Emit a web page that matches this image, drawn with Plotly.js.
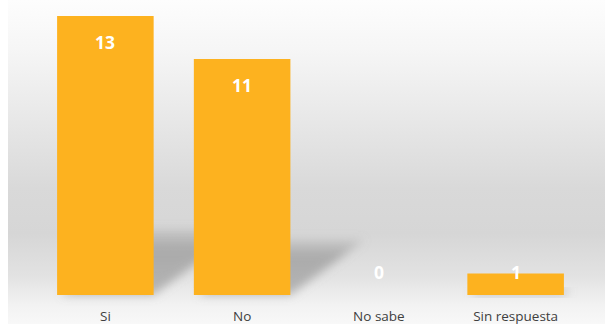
<!DOCTYPE html>
<html>
<head>
<meta charset="utf-8">
<script src="https://cdn.plot.ly/plotly-3.0.1.min.js"></script>
<style>
  html, body { margin: 0; padding: 0; background: #ffffff; }
  #wrap { position: relative; width: 605px; height: 324px; overflow: hidden; background: #ffffff; }
  #bg { position: absolute; left: 8px; top: 0; width: 597px; height: 324px;
        background: linear-gradient(to bottom, #fdfdfd 0%, #f6f6f6 15%, #e9e9e9 35%, #d9d9d9 58%, #d6d6d6 72%, #e2e2e2 85%, #f2f2f2 94%, #f8f8f8 100%); }
  #shadow { position: absolute; left: 0; top: 0; width: 605px; height: 324px; }
  #chart { position: absolute; left: 0; top: 0; width: 605px; height: 324px; }
</style>
</head>
<body>
<div id="wrap">
  <div id="bg"></div>
  <svg id="shadow" width="605" height="324" xmlns="http://www.w3.org/2000/svg">
    <defs>
      <filter id="blur" x="-50%" y="-50%" width="200%" height="200%">
        <feGaussianBlur stdDeviation="5"/>
      </filter>
      <linearGradient id="sg" x1="0" y1="1" x2="0" y2="0">
        <stop offset="0" stop-color="#8a8a8a" stop-opacity="0.55"/>
        <stop offset="0.7" stop-color="#8a8a8a" stop-opacity="0.6"/>
        <stop offset="1" stop-color="#8a8a8a" stop-opacity="0.2"/>
      </linearGradient>
    </defs>
    <g id="shadowg"></g>
  </svg>
  <div id="chart"></div>
</div>
<script>
const categories = ["Si", "No", "No sabe", "Sin respuesta"];
const values = [13, 11, 0, 1];

const annotations = categories.map((c, i) => ({
  x: c,
  y: Math.max(values[i] - 1.2, 1.07),
  xref: "x", yref: "y",
  text: String(values[i]),
  showarrow: false,
  font: { family: "'Open Sans', sans-serif", size: 17.5, color: "#ffffff", weight: "bold" },
  yanchor: "middle"
}));

const trace = {
  type: "bar",
  x: categories,
  y: values,
  marker: { color: "#FDB21F", line: { width: 0 } },
  hoverinfo: "none"
};

const bargap = 0.294;
const layout = {
  width: 605, height: 324,
  margin: { l: 37, r: 21, t: 16, b: 29 },
  paper_bgcolor: "rgba(0,0,0,0)",
  plot_bgcolor: "rgba(0,0,0,0)",
  bargap: bargap,
  showlegend: false,
  font: { family: "'Open Sans', sans-serif", color: "#404040" },
  xaxis: {
    type: "category",
    showgrid: false, zeroline: false, showline: false,
    ticks: "", tickfont: { size: 13.5, color: "#404040" },
    ticklabelstandoff: 11
  },
  yaxis: {
    range: [0, 13], visible: false, showgrid: false, zeroline: false, fixedrange: true
  },
  annotations: annotations
};

Plotly.newPlot("chart", [trace], layout, { displayModeBar: false, staticPlot: true }).then(gd => {
  const fl = gd._fullLayout;
  const xa = fl.xaxis, ya = fl.yaxis;
  const ox = xa._offset, oy = ya._offset;
  const g = document.getElementById("shadowg");
  const ns = "http://www.w3.org/2000/svg";
  values.forEach((v, i) => {
    if (v <= 0) return;
    const half = (1 - bargap) / 2;
    const xl = ox + xa.l2p(i - half);
    const xr = ox + xa.l2p(i + half);
    const yb = oy + ya.l2p(0);
    const yt = oy + ya.l2p(v);
    const h = (yb - yt) * 0.235;
    const dx = h * 1.35;
    const p = document.createElementNS(ns, "polygon");
    p.setAttribute("points", [
      [xl + 4, yb], [xr, yb], [xr + dx, yb - h], [xl + dx, yb - h]
    ].map(q => q.join(",")).join(" "));
    p.setAttribute("fill", "url(#sg)");
    p.setAttribute("filter", "url(#blur)");
    g.appendChild(p);
  });
});
</script>
</body>
</html>
